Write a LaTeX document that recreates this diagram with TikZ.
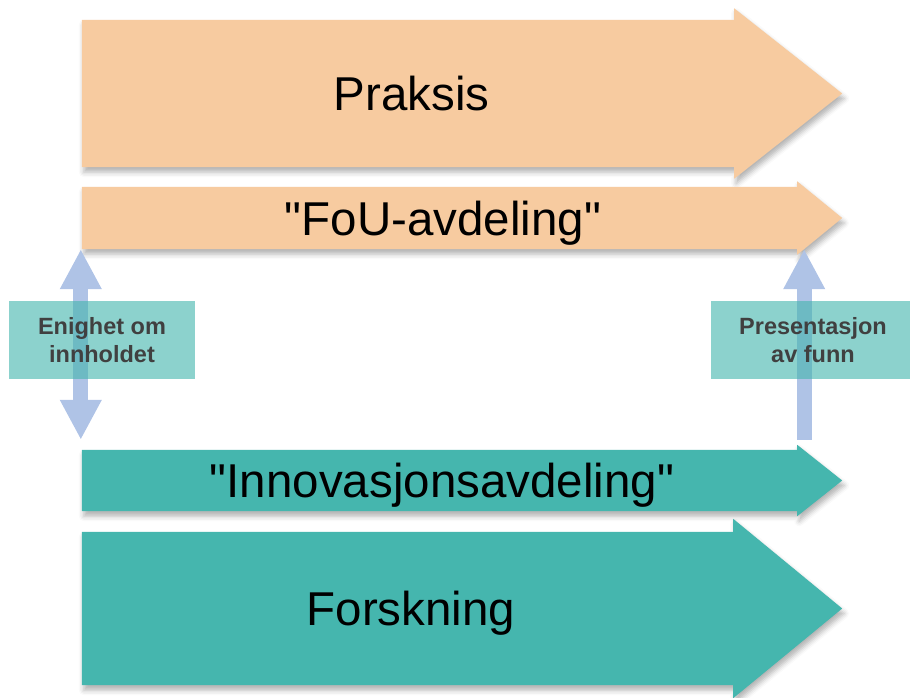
\documentclass[tikz,border=0pt]{standalone}
\usepackage{fontspec}
\setmainfont{Liberation Sans}[Ligatures=TeXOff]
\usetikzlibrary{arrows.meta,backgrounds,shadows.blur}

\definecolor{praksisfill}{HTML}{F7CBA0}
\definecolor{forskfill}{HTML}{45B6AE}
\definecolor{linkblue}{HTML}{AFC3E6}
\definecolor{notetext}{HTML}{404040}

\begin{document}
\begin{tikzpicture}[
    x=1pt,
    y=-1pt,
    >={Triangle[width=39pt,length=40pt]},
    band/.style={
        rectangle,
        inner sep=0pt,
        text height=34pt,
        text depth=0pt,
        font=\fontsize{47.5pt}{52pt}\selectfont
    },
    bandshadow/.style={
        blur shadow={shadow xshift=2pt, shadow yshift=-5pt,
            shadow blur radius=5pt, shadow opacity=30}
    },
    note/.style={
        rectangle,
        fill=forskfill,
        fill opacity=0.62,
        text opacity=1,
        text=notetext,
        align=center,
        minimum height=78pt,
        font=\fontsize{23.5pt}{28pt}\selectfont\bfseries
    },
    link/.style={
        draw=linkblue,
        line width=15pt
    }
]
\useasboundingbox (0,0) rectangle (910,697);

% Nodes
\node [band, minimum width=652pt, minimum height=147pt] (praksis) at (408,93.5) {\hspace*{7pt}Praksis};
\node [band, minimum width=715pt, minimum height=62pt] (fou) at (439.5,218) {\hspace*{7pt}"FoU-avdeling"};
\node [band, minimum width=715pt, minimum height=61pt] (innov) at (439.5,480.5) {\hspace*{5pt}"Innovasjonsavdeling"};
\node [band, minimum width=651pt, minimum height=153pt] (forsk) at (407.5,608.5) {\hspace*{7pt}Forskning};

% Arrow bodies
\begin{pgfonlayer}{background}
\fill [praksisfill, bandshadow] (praksis.south west) -- (praksis.north west) -- (praksis.north east) -- ([yshift=11.5pt]praksis.north east) -- ([xshift=108pt]praksis.east) -- ([yshift=-11.5pt]praksis.south east) -- (praksis.south east) -- cycle;
\fill [praksisfill, bandshadow] (fou.south west) -- (fou.north west) -- (fou.north east) -- ([yshift=5.5pt]fou.north east) -- ([xshift=45pt]fou.east) -- ([yshift=-5.5pt]fou.south east) -- (fou.south east) -- cycle;
\fill [forskfill, bandshadow] (innov.south west) -- (innov.north west) -- (innov.north east) -- ([yshift=5pt]innov.north east) -- ([xshift=45pt]innov.east) -- ([yshift=-5pt]innov.south east) -- (innov.south east) -- cycle;
\fill [forskfill, bandshadow] (forsk.south west) -- (forsk.north west) -- (forsk.north east) -- ([yshift=13pt]forsk.north east) -- ([xshift=109pt]forsk.east) -- ([yshift=-13pt]forsk.south east) -- (forsk.south east) -- cycle;
\end{pgfonlayer}

% Edges
\draw [link, <->] ([xshift=-1pt]fou.south west) -- ([xshift=-1pt,yshift=10pt]innov.north west);
\draw [link, ->] ([xshift=7pt,yshift=10pt]innov.north east) -- ([xshift=7pt]fou.south east);

% Labels
\node [note, minimum width=186pt] (enighet) at (102,340) {Enighet om\\innholdet};
\node [note, minimum width=204pt] (presentasjon) at (813,340) {Presentasjon\\av funn};

\end{tikzpicture}
\end{document}
